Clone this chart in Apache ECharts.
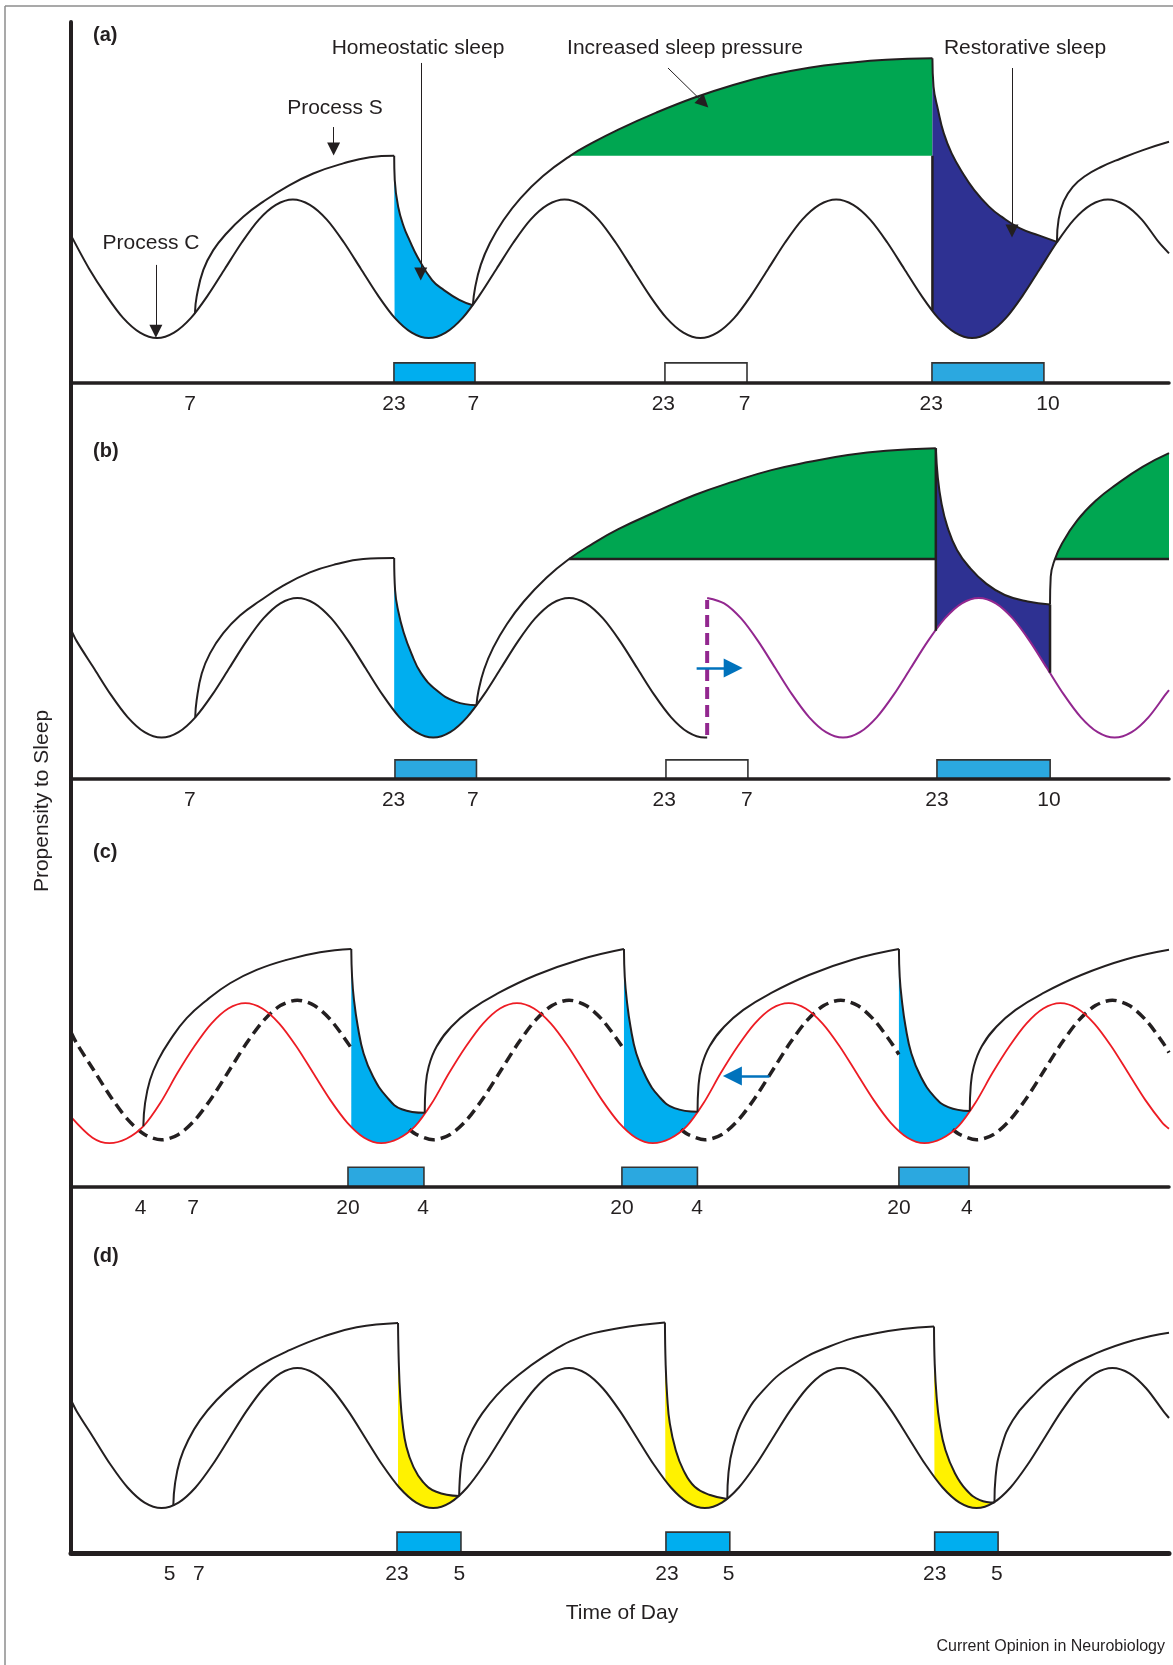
<!DOCTYPE html>
<html>
<head>
<meta charset="utf-8">
<title>Two-process model of sleep</title>
<script src="https://cdn.jsdelivr.net/npm/echarts@6.0.0/dist/echarts.min.js"></script>
<style>
  html, body { margin: 0; padding: 0; background: #fff; }
  #chart { width: 1173px; height: 1665px; }
</style>
</head>
<body>
<div id="chart"></div>
<script>
// x = hours from the left axis, y = propensity to sleep

// ---- panel (a)
const processCA = [[0,41],[1.6,31.75],[3.1,24.4],[4.6,18.1],[6.1,14.0],[7.6,12.5],[9.1,14.0],[10.6,18.1],[12.1,24.4],[13.6,31.75],[15.1,39.1],[16.6,45.4],[18.1,49.5],[19.6,51],[21.1,49.5],[22.6,45.4],[24.1,39.1],[25.6,31.75],[27.1,24.4],[28.6,18.1],[30.1,14.0],[31.6,12.5],[33.1,14.0],[34.6,18.1],[36.1,24.4],[37.6,31.75],[39.1,39.1],[40.6,45.4],[42.1,49.5],[43.6,51],[45.1,49.5],[46.6,45.4],[48.1,39.1],[49.6,31.75],[51.1,24.4],[52.6,18.1],[54.1,14.0],[55.6,12.5],[57.1,14.0],[58.6,18.1],[60.1,24.4],[61.6,31.75],[63.1,39.1],[64.6,45.4],[66.1,49.5],[67.6,51],[69.1,49.5],[70.6,45.4],[72.1,39.1],[73.6,31.75],[75.1,24.4],[76.6,18.1],[78.1,14.0],[79.6,12.5],[81.1,14.0],[82.6,18.1],[84.1,24.4],[85.6,31.75],[87.1,39.1],[88.6,45.4],[90.1,49.5],[91.6,51],[93.1,49.5],[94.6,45.4],[96.1,39.1],[97,36]];
const riseA1 = [[10.95,19.4],[11.1,24.0],[11.69,31.4],[12.57,36.9],[13.75,41.6],[15.22,46.2],[16.99,50.4],[19.05,54.5],[21.4,58.2],[24.05,61.0],[26.41,62.7],[28.55,63.1]];
const decayA1 = [[28.55,63.1],[28.6,56.4],[28.9,49],[29.4,43.4],[29.9,39.7],[30.6,35.1],[31.9,28.6],[32.95,25.8],[34.3,23.1],[35.5,21.6]];
const riseA2 = [[35.5,21.6],[35.7,26.5],[36.2,32.8],[37.0,38.8],[38.2,45.2],[39.7,51.3],[41.7,57.5],[44.1,63.1],[46.0,66.6],[48.35,70.4],[51.7,75.1],[55.1,79.3],[58.5,82.8],[61.9,85.6],[65.2,87.6],[68.6,88.9],[72.0,89.8],[76.1,90.2]];
const decayA2 = [[76.1,90.2],[76.2,82.3],[76.6,75.8],[77.1,69.4],[77.8,63.8],[78.8,58.2],[79.8,53.6],[81.1,49],[82.2,46.2],[83.8,43],[85.5,41.0],[87.1,39.2]];
const riseA3 = [[87.1,39.2],[87.25,45.5],[87.7,50.5],[88.5,54.5],[89.6,57.5],[91.0,60.0],[92.7,62.3],[94.7,64.7],[97,67]];
const floorA = 63.1;
const greenSpanA = [35.5, 76.1];
const edgeA = [[76.1,63.1],[76.1,20.2]];
const barsA = [[28.53,35.69,5.6],[52.47,59.72,5.6],[76.06,85.95,5.6]];
const barColorsA = ['#00AEEF','#FFFFFF','#2BA8E0'];
const ticksA = [10.53,28.53,35.55,52.33,59.5,76.0,86.3];
const tickLabelsA = ['7','23','7','23','7','23','10'];
const arrowsA = [
  [[30.9,88.9],[30.9,30.3]],
  [[23.2,71.1],[23.2,65.0]],
  [[7.5,32.8],[7.5,14.4]],
  [[52.74,87.5],[55.89,77.8]],
  [[83.13,87.5],[83.13,42.2]]
];

// ---- panel (b)
const processCB = [[0,41.5],[0.5,38.3],[2,30.9],[3.5,23.5],[5,17.2],[6.5,13.0],[8,11.5],[9.5,13.0],[11,17.2],[12.5,23.5],[14,30.9],[15.5,38.3],[17,44.6],[18.5,48.8],[20,50.3],[21.5,48.8],[23,44.6],[24.5,38.3],[26,30.9],[27.5,23.5],[29,17.2],[30.5,13.0],[32,11.5],[33.5,13.0],[35,17.2],[36.5,23.5],[38,30.9],[39.5,38.3],[41,44.6],[42.5,48.8],[44,50.3],[45.5,48.8],[47,44.6],[48.5,38.3],[50,30.9],[51.5,23.5],[53,17.2],[54.5,13.0],[56,11.5],[56.2,11.5]];
const shiftedCB = [[56.2,50.3],[57.7,48.8],[59.2,44.6],[60.7,38.3],[62.2,30.9],[63.7,23.5],[65.2,17.2],[66.7,13.0],[68.2,11.5],[69.7,13.0],[71.2,17.2],[72.7,23.5],[74.2,30.9],[75.7,38.3],[77.2,44.6],[78.7,48.8],[80.2,50.3],[81.7,48.8],[83.2,44.6],[84.7,38.3],[86.2,30.9],[87.7,23.5],[89.2,17.2],[90.7,13.0],[92.2,11.5],[93.7,13.0],[95.2,17.2],[96.7,23.5],[97,24.7]];
const riseB1 = [[10.97,17.0],[11.1,21.9],[11.55,29.3],[12.28,34.9],[13.45,40.5],[14.93,45.4],[16.7,49.5],[18.75,53.7],[21.11,57.4],[23.47,59.7],[25.82,61.1],[28.55,61.4]];
const decayB1 = [[28.55,61.4],[28.63,52.5],[28.89,46.9],[29.39,40.7],[30.07,34.9],[30.92,29.4],[32.27,24.7],[33.96,21.5],[35.82,20.5]];
const riseB2 = [[35.82,20.5],[36.0,24.5],[36.5,30.5],[37.3,36.5],[38.5,43.0],[40.0,49.3],[42.0,55.9],[44.0,61.1],[46.0,65.2],[48.35,69.4],[51.72,74.3],[55.1,78.9],[58.49,82.6],[61.87,85.8],[65.25,88.1],[68.63,90],[72.01,91.2],[76.4,91.9]];
const decayB2 = [[76.4,91.9],[76.57,84.0],[76.9,76.6],[77.42,70.1],[78.27,63.6],[79.45,58.5],[80.8,54.4],[82.49,51.1],[84.52,49.3],[86.49,48.5]];
const riseB3 = [[86.49,48.5],[86.55,56.2],[86.89,60.8],[87.56,65.5],[88.91,71.9],[90.6,77.5],[92.3,81.7],[94.66,86.7],[97,90.5]];
const floorB = 61.1;
const greenSpansB = [[35.82,76.4],[86.49,97]];
const floorLinesB = [[[44.0,61.1],[76.4,61.1]],[[86.93,61.1],[97,61.1]]];
const edgesB = [[[76.4,91.9],[76.4,41.2]],[[86.49,48.5],[86.49,29.5]]];
const phaseShiftB = [[56.2,12.2],[56.2,49.7]];
const barsB = [[28.62,35.82,5.3],[52.56,59.8,5.3],[76.5,86.5,5.3]];
const barColorsB = ['#2BA8E0','#FFFFFF','#2BA8E0'];
const ticksB = [10.5,28.5,35.5,52.4,59.7,76.5,86.4];
const tickLabelsB = ['7','23','7','23','7','23','10'];
const arrowB = [[55.27,30.8],[58.5,30.8]];

// ---- panel (c)
const advancedCC = [[0,19.5],[1.9,13.7],[3.4,12.2],[4.9,13.4],[6.4,16.9],[7.9,23.4],[9.4,31.65],[10.9,39.1],[12.4,45.4],[13.9,49.6],[15.4,51.1],[16.9,49.6],[18.4,45.4],[19.9,39.1],[21.4,31.65],[22.9,24.2],[24.4,17.9],[25.9,13.7],[27.4,12.2],[28.9,13.4],[30.4,16.9],[31.9,23.4],[33.4,31.65],[34.9,39.1],[36.4,45.4],[37.9,49.6],[39.4,51.1],[40.9,49.6],[42.4,45.4],[43.9,39.1],[45.4,31.65],[46.9,24.2],[48.4,17.9],[49.9,13.7],[51.4,12.2],[52.9,13.4],[54.4,16.9],[55.9,23.4],[57.4,31.65],[58.9,39.1],[60.4,45.4],[61.9,49.6],[63.4,51.1],[64.9,49.6],[66.4,45.4],[67.9,39.1],[69.4,31.65],[70.9,24.2],[72.4,17.9],[73.9,13.7],[75.4,12.2],[76.9,13.4],[78.4,16.9],[79.9,23.4],[81.4,31.65],[82.9,39.1],[84.4,45.4],[85.9,49.6],[87.4,51.1],[88.9,49.6],[90.4,45.4],[91.9,39.1],[93.4,31.65],[94.9,24.2],[96.4,17.9],[97,16.2]];
const originalCC = [[0,43],[0.5,39.9],[2,32.5],[3.5,25.1],[5,18.8],[6.5,14.6],[8,13.1],[9.5,14.6],[11,18.8],[12.5,25.1],[14,32.5],[15.5,39.9],[17,46.2],[18.5,50.4],[20,51.9],[21.5,50.4],[23,46.2],[24.76,38.6],[27,'-'],[29.9,16.0],[30.5,14.6],[32,13.1],[33.5,14.6],[35,18.8],[36.5,25.1],[38,32.5],[39.5,39.9],[41,46.2],[42.5,50.4],[44,51.9],[45.5,50.4],[47,46.2],[48.85,38.3],[51,'-'],[53.9,16.0],[54.5,14.6],[56,13.1],[57.5,14.6],[59,18.8],[60.5,25.1],[62,32.5],[63.5,39.9],[65,46.2],[66.5,50.4],[68,51.9],[69.5,50.4],[71,46.2],[72.5,39.9],[73.14,36.8],[75,'-'],[77.9,16.0],[78.5,14.6],[80,13.1],[81.5,14.6],[83,18.8],[84.5,25.1],[86,32.5],[87.5,39.9],[89,46.2],[90.5,50.4],[92,51.9],[93.5,50.4],[95,46.2],[96.5,39.9],[97,37.3]];
const riseC1 = [[6.39,16.9],[6.54,23.2],[6.98,29.7],[7.71,35.3],[8.75,40.8],[10.22,46.9],[11.99,51.9],[14.05,56.6],[16.4,60.3],[19.05,63.1],[22.0,65.2],[24.76,66.1]];
const decayC1 = [[24.76,66.1],[24.83,58.4],[25.0,51.9],[25.34,44.5],[25.85,37.1],[26.69,30.6],[27.87,25.1],[29.22,21.6],[31.25,20.6]];
const riseC2 = [[31.25,20.6],[31.33,27.9],[31.6,33.4],[32.3,39.0],[33.6,44.5],[35.3,49.2],[37.7,53.8],[41.1,58.9],[45.0,63.2],[48.85,66.1]];
const decayC2 = [[48.85,66.1],[48.92,58.4],[49.1,51.9],[49.43,44.5],[49.94,37.1],[50.78,30.6],[51.96,25.1],[53.31,21.9],[55.35,20.9]];
const riseC3 = [[55.35,20.9],[55.43,27.9],[55.7,33.4],[56.4,39.0],[57.7,44.5],[59.4,49.2],[61.8,53.8],[65.2,58.9],[69.1,63.2],[73.14,66.1]];
const decayC3 = [[73.14,66.1],[73.21,58.4],[73.4,51.9],[73.73,44.5],[74.24,37.1],[75.08,30.6],[76.26,25.1],[77.5,22.2],[79.4,21.1]];
const riseC4 = [[79.4,21.1],[79.48,27.9],[79.75,33.4],[80.45,39.0],[81.75,44.5],[83.45,49.2],[85.85,53.8],[89.25,58.9],[93.15,63.2],[97,65.9]];
const barsC = [[24.47,31.18,5.5],[48.67,55.34,5.5],[73.14,79.33,5.5]];
const barColorsC = ['#2BA8E0','#2BA8E0','#2BA8E0'];
const ticksC = [6.14,10.78,24.47,31.1,48.67,55.3,73.14,79.15];
const tickLabelsC = ['4','7','20','4','20','4','20','4'];
const arrowC = [[61.7,30.8],[58.43,30.8]];

// ---- panel (d)
const processCD = [[0,42.5],[0.5,39.4],[2,31.95],[3.5,24.5],[5,18.2],[6.5,14.0],[8,12.5],[9.5,14.0],[11,18.2],[12.5,24.5],[14,31.95],[15.5,39.4],[17,45.7],[18.5,49.9],[20,51.4],[21.5,49.9],[23,45.7],[24.5,39.4],[26,31.95],[27.5,24.5],[29,18.2],[30.5,14.0],[32,12.5],[33.5,14.0],[35,18.2],[36.5,24.5],[38,31.95],[39.5,39.4],[41,45.7],[42.5,49.9],[44,51.4],[45.5,49.9],[47,45.7],[48.5,39.4],[50,31.95],[51.5,24.5],[53,18.2],[54.5,14.0],[56,12.5],[57.5,14.0],[59,18.2],[60.5,24.5],[62,31.95],[63.5,39.4],[65,45.7],[66.5,49.9],[68,51.4],[69.5,49.9],[71,45.7],[72.5,39.4],[74,31.95],[75.5,24.5],[77,18.2],[78.5,14.0],[80,12.5],[81.5,14.0],[83,18.2],[84.5,24.5],[86,31.95],[87.5,39.4],[89,45.7],[90.5,49.9],[92,51.4],[93.5,49.9],[95,45.7],[96.5,39.4],[97,37.5]];
const riseD1 = [[9.04,13.3],[9.19,19.3],[9.63,25.8],[10.36,31.4],[11.4,36.9],[12.87,42.5],[14.64,47.6],[16.7,52.2],[19.35,56.4],[22.29,60.1],[25.24,62.7],[28.89,63.9]];
const decayD1 = [[28.89,63.9],[28.96,52.7],[29.09,43.4],[29.29,36.0],[29.63,29.5],[30.24,24.0],[31.08,19.8],[32.27,17.0],[34.29,15.8]];
const riseD2 = [[34.29,15.8],[34.47,24.9],[34.8,29.5],[35.5,34.5],[36.33,38.8],[37.6,43.8],[39.03,48.1],[41.73,54.5],[44.96,59.9],[48.35,62.4],[52.47,64.0]];
const decayD2 = [[52.47,64.0],[52.53,52.7],[52.67,43.4],[52.9,36.0],[53.42,28.6],[54.09,23.1],[55.1,18.4],[56.46,16.1],[57.98,15.0]];
const riseD3 = [[57.98,15.0],[58.08,22.1],[58.49,29.5],[59.5,37.9],[61.19,45.3],[63.56,51.8],[66.94,57.3],[71.0,61.0],[76.24,62.9]];
const decayD3 = [[76.24,62.9],[76.3,52.7],[76.47,43.4],[76.74,36.0],[77.25,28.6],[78.1,22.1],[79.1,17.5],[80.3,14.7],[81.58,14.0]];
const riseD4 = [[81.58,14.0],[81.68,21.2],[82.2,29.5],[83.2,36.9],[84.9,43.4],[87.2,49.9],[90.6,55.5],[93.98,59.2],[97,61.2]];
const barsD = [[28.8,34.45,5.8],[52.56,58.2,5.8],[76.3,81.9,5.8]];
const barColorsD = ['#00AEEF','#00AEEF','#00AEEF'];
const ticksD = [8.7,11.3,28.8,34.3,52.65,58.1,76.3,81.8];
const tickLabelsD = ['5','7','23','5','23','5','23','5'];

// ---- styling
const FONT = '"Liberation Sans", Arial, Helvetica, sans-serif';
const INK = '#231F20';
const CYAN = '#00AEEF', NAVY = '#2E3192', GREEN = '#00A651', YELLOW = '#FFF200';
const RED = '#ED1C24', PURPLE = '#92278F', BLUE = '#0072BC';
const PANELS = [[22, 361], [383, 396], [779, 408], [1187, 366]]; // grid top, height
const Y_PX = 3.6;
const WAVE = 0.3;   // smoothing for the circadian curves

const chart = echarts.init(document.getElementById('chart'), null, { renderer: 'canvas' });

function line(p, data, o) {
  return Object.assign({
    type: 'line', xAxisIndex: p, yAxisIndex: p, data: data,
    symbol: 'none', showSymbol: false, smooth: 0.45,
    silent: true, connectNulls: false,
    lineStyle: { color: INK, width: 2 }, z: 3
  }, o);
}
function area(p, data, color, z, sm) {
  return line(p, data, {
    smooth: sm || 0.45,
    lineStyle: { width: 0, opacity: 0 },
    areaStyle: { color: color, opacity: 1 }, z: z
  });
}
function straight(p, data, color, width, extra) {
  return line(p, data, Object.assign({ smooth: false, lineStyle: { color: color, width: width } }, extra || {}));
}
function bars(p, data, colors) {
  return {
    type: 'custom', xAxisIndex: p, yAxisIndex: p, data: data, z: 4, silent: true,
    renderItem: function (params, api) {
      const a = api.coord([api.value(0), api.value(2)]);
      const b = api.coord([api.value(1), 0]);
      return {
        type: 'rect',
        shape: { x: a[0], y: a[1], width: b[0] - a[0], height: b[1] - a[1] },
        style: { fill: colors[params.dataIndex], stroke: '#333', lineWidth: 1.6 }
      };
    }
  };
}
function arrows(p, list, color, width, size) {
  return {
    type: 'lines', coordinateSystem: 'cartesian2d', xAxisIndex: p, yAxisIndex: p,
    z: 5, silent: true, symbol: ['none', 'triangle'], symbolSize: size,
    lineStyle: { color: color, width: width, opacity: 1, curveness: 0 },
    data: list.map(c => ({ coords: c }))
  };
}

const ticks = [ticksA, ticksB, ticksC, ticksD];
const tickLabels = [tickLabelsA, tickLabelsB, tickLabelsC, tickLabelsD];

const grid = PANELS.map(p => ({ left: 71, width: 1098, top: p[0], height: p[1] }));
const xAxis = PANELS.map((p, i) => ({
  type: 'value', gridIndex: i, min: 0, max: 97, z: 10,
  axisLine: { show: true, onZero: false, lineStyle: { color: INK, width: i === 3 ? 5 : 3.5 } },
  axisTick: { show: false }, splitLine: { show: false },
  axisLabel: {
    show: true, customValues: ticks[i], margin: 11,
    fontSize: 21, fontFamily: FONT, color: INK,
    formatter: function (v) {
      const k = ticks[i].findIndex(t => Math.abs(t - v) < 1e-6);
      return k >= 0 ? tickLabels[i][k] : '';
    }
  }
}));
const yAxis = PANELS.map((p, i) => ({
  type: 'value', gridIndex: i, min: 0, max: p[1] / Y_PX, z: 10,
  axisLine: { show: true, onZero: false, lineStyle: { color: INK, width: 4 } },
  axisTick: { show: false }, axisLabel: { show: false }, splitLine: { show: false }
}));

const series = [
  // (a) fills
  area(0, riseA2, GREEN, 1),
  area(0, [[greenSpanA[0], floorA], [greenSpanA[1], floorA]], '#FFFFFF', 1.5),
  area(0, decayA1, CYAN, 1.6),
  area(0, decayA2, NAVY, 1.6),
  area(0, processCA, '#FFFFFF', 2, WAVE),
  // (a) lines
  line(0, processCA, { smooth: WAVE }),
  line(0, riseA1), line(0, decayA1), line(0, riseA2), line(0, decayA2), line(0, riseA3),
  straight(0, edgeA, INK, 2.5),
  bars(0, barsA, barColorsA),
  arrows(0, arrowsA, INK, 1, [9, 13]),

  // (b) fills
  area(1, riseB2, GREEN, 1),
  area(1, riseB3, GREEN, 1),
  area(1, [[greenSpansB[0][0], floorB], [greenSpansB[0][1], floorB]], '#FFFFFF', 1.5),
  area(1, [[greenSpansB[1][0], floorB], [greenSpansB[1][1], floorB]], '#FFFFFF', 1.5),
  area(1, decayB1, CYAN, 1.6),
  area(1, decayB2, NAVY, 1.6),
  area(1, processCB, '#FFFFFF', 2, WAVE),
  area(1, shiftedCB, '#FFFFFF', 2, WAVE),
  // (b) lines
  line(1, processCB, { smooth: WAVE }),
  line(1, shiftedCB, { smooth: WAVE, lineStyle: { color: PURPLE, width: 2 } }),
  line(1, riseB1), line(1, decayB1), line(1, riseB2), line(1, decayB2), line(1, riseB3),
  straight(1, floorLinesB[0], INK, 2.5), straight(1, floorLinesB[1], INK, 2.5),
  straight(1, edgesB[0], INK, 2.5), straight(1, edgesB[1], INK, 2.5),
  straight(1, phaseShiftB, PURPLE, 4, { lineStyle: { color: PURPLE, width: 4, type: [12, 6] } }),
  bars(1, barsB, barColorsB),
  arrows(1, [arrowB], BLUE, 2.5, [20, 19]),

  // (c) fills
  area(2, decayC1, CYAN, 1.6),
  area(2, decayC2, CYAN, 1.6),
  area(2, decayC3, CYAN, 1.6),
  area(2, advancedCC, '#FFFFFF', 2, WAVE),
  // (c) lines
  line(2, originalCC, { smooth: WAVE, lineStyle: { color: INK, width: 3.5, type: [11, 6] } }),
  line(2, advancedCC, { smooth: WAVE, lineStyle: { color: RED, width: 1.8 } }),
  line(2, riseC1), line(2, decayC1), line(2, riseC2), line(2, decayC2),
  line(2, riseC3), line(2, decayC3), line(2, riseC4),
  bars(2, barsC, barColorsC),
  arrows(2, [arrowC], BLUE, 2.5, [20, 19]),

  // (d) fills
  area(3, decayD1, YELLOW, 1.6),
  area(3, decayD2, YELLOW, 1.6),
  area(3, decayD3, YELLOW, 1.6),
  area(3, processCD, '#FFFFFF', 2, WAVE),
  // (d) lines
  line(3, processCD, { smooth: WAVE }),
  line(3, riseD1), line(3, decayD1), line(3, riseD2), line(3, decayD2),
  line(3, riseD3), line(3, decayD3), line(3, riseD4),
  bars(3, barsD, barColorsD)
];

function txt(x, y, text, o) {
  return {
    type: 'text', x: x, y: y, z: 20, silent: true,
    rotation: (o && o.rotation) || 0,
    style: {
      text: text, fill: INK,
      font: (o && o.font) || ('21px ' + FONT),
      align: (o && o.align) || 'center', verticalAlign: 'middle'
    }
  };
}

const graphic = [
  { type: 'line', silent: true, shape: { x1: 5, y1: 6, x2: 1173, y2: 6 }, style: { stroke: '#8c8c8c', lineWidth: 1.5 } },
  { type: 'line', silent: true, shape: { x1: 5, y1: 6, x2: 5, y2: 1665 }, style: { stroke: '#8c8c8c', lineWidth: 1.5 } },
  txt(93, 35, '(a)', { font: 'bold 20px ' + FONT, align: 'left' }),
  txt(93, 451, '(b)', { font: 'bold 20px ' + FONT, align: 'left' }),
  txt(93, 852, '(c)', { font: 'bold 20px ' + FONT, align: 'left' }),
  txt(93, 1256, '(d)', { font: 'bold 20px ' + FONT, align: 'left' }),
  txt(418, 48, 'Homeostatic sleep'),
  txt(335, 108, 'Process S'),
  txt(151, 243, 'Process C'),
  txt(685, 48, 'Increased sleep pressure'),
  txt(1025, 48, 'Restorative sleep'),
  txt(622, 1613, 'Time of Day'),
  txt(42, 801, 'Propensity to Sleep', { rotation: Math.PI / 2 }),
  txt(1165, 1647, 'Current Opinion in Neurobiology', { font: '16px ' + FONT, align: 'right' })
];

chart.setOption({
  animation: false,
  backgroundColor: '#FFFFFF',
  grid: grid,
  xAxis: xAxis,
  yAxis: yAxis,
  series: series,
  graphic: graphic
});
</script>
</body>
</html>
